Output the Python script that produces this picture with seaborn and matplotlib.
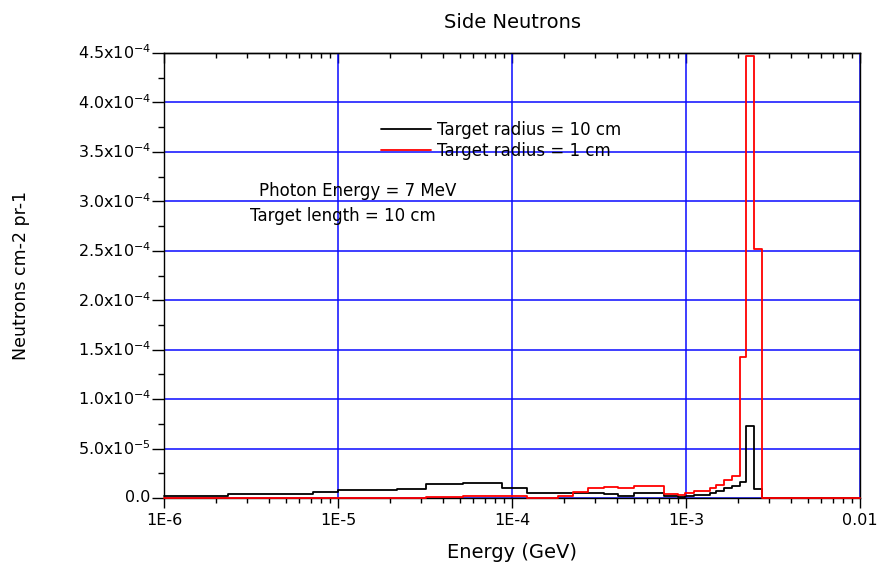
import matplotlib
matplotlib.use("Agg")
import matplotlib.pyplot as plt
import numpy as np
import pandas as pd
import seaborn as sns
from matplotlib.ticker import FixedLocator, FixedFormatter, NullFormatter, LogLocator

# Energy bin edges (GeV) shared by both spectra
bin_edges = [1.0e-6, 2.33e-6, 7.2e-6, 1.0e-5, 2.19e-5, 3.21e-5, 5.24e-5, 8.75e-5,
             1.22e-4, 1.85e-4, 2.25e-4, 2.72e-4, 3.36e-4, 4.09e-4, 5.05e-4, 7.43e-4,
             9.05e-4, 9.9e-4, 1.107e-3, 1.23e-3, 1.37e-3, 1.49e-3, 1.66e-3, 1.84e-3,
             2.03e-3, 2.22e-3, 2.47e-3, 2.75e-3, 1.0e-2]

# Neutron fluence per bin (neutrons cm-2 per primary)
flux_r10 = [2.0e-6, 3.7e-6, 5.7e-6, 7.7e-6, 9.0e-6, 13.7e-6, 15.3e-6, 10.0e-6,
            5.5e-6, 5.5e-6, 5.5e-6, 5.5e-6, 3.7e-6, 2.3e-6, 5.5e-6, 2.3e-6,
            1.3e-6, 2.5e-6, 3.0e-6, 3.3e-6, 4.7e-6, 6.7e-6, 10.0e-6, 12.0e-6,
            16.3e-6, 73.0e-6, 8.7e-6, 0.0]
flux_r1 = [0.3e-6, 0.3e-6, 0.3e-6, 0.3e-6, 0.3e-6, 1.0e-6, 2.0e-6, 2.0e-6,
           0.5e-6, 2.3e-6, 5.7e-6, 9.7e-6, 11.3e-6, 9.7e-6, 11.7e-6, 4.0e-6,
           3.3e-6, 5.3e-6, 6.7e-6, 7.3e-6, 9.7e-6, 12.7e-6, 18.0e-6, 22.0e-6,
           143.0e-6, 447.0e-6, 251.5e-6, 0.0]

series_labels = ["Target radius = 10 cm", "Target radius = 1 cm"]
series_colors = ["#000000", "#ff0000"]

xtick_values = [1e-6, 1e-5, 1e-4, 1e-3, 1e-2]
xtick_labels = ["1E-6", "1E-5", "1E-4", "1E-3", "0.01"]
ytick_values = [0.0, 5e-5, 1e-4, 1.5e-4, 2e-4, 2.5e-4, 3e-4, 3.5e-4, 4e-4, 4.5e-4]
ytick_labels = ["0.0", "5.0x10$^{-5}$", "1.0x10$^{-4}$", "1.5x10$^{-4}$", "2.0x10$^{-4}$",
                "2.5x10$^{-4}$", "3.0x10$^{-4}$", "3.5x10$^{-4}$", "4.0x10$^{-4}$",
                "4.5x10$^{-4}$"]

sns.set_style("white")
plt.rcParams["font.family"] = ["DejaVu Sans"]
plt.rcParams["mathtext.default"] = "regular"
for key in ["text.color", "axes.labelcolor", "xtick.color", "ytick.color",
            "axes.edgecolor"]:
    plt.rcParams[key] = "black"

W, H = 882, 572
fig = plt.figure(figsize=(W / 100, H / 100), dpi=100)
ax_l, ax_r, ax_t, ax_b = 164, 860, 53, 498
ax = fig.add_axes([ax_l / W, 1 - ax_b / H, (ax_r - ax_l) / W, (ax_b - ax_t) / H])

ax.set_xscale("log")
handles = []
for flux, lab, col in zip([flux_r10, flux_r1], series_labels, series_colors):
    df = pd.DataFrame({"energy": bin_edges, "flux": list(flux) + [flux[-1]]})
    sns.lineplot(data=df, x="energy", y="flux", ax=ax, estimator=None, sort=False,
                 drawstyle="steps-post", color=col, lw=1.3, legend=False)
    line = ax.get_lines()[-1]
    line.set_zorder(4)
    line.set_clip_on(False)
    line.set_label(lab)
    handles.append(line)

ax.set_xlim(1e-6, 1e-2)
ax.set_ylim(0, 4.5e-4)

# grid
ax.set_axisbelow(True)
ax.grid(True, which="major", color="#0a0aff", lw=1.1)
ax.grid(False, which="minor")

# spines
for s in ax.spines.values():
    s.set_visible(True)
    s.set_color("black")
    s.set_linewidth(1.0)

# x ticks: outward on bottom
ax.xaxis.set_major_locator(FixedLocator(xtick_values))
ax.xaxis.set_major_formatter(FixedFormatter(xtick_labels))
ax.xaxis.set_minor_locator(LogLocator(base=10, subs=np.arange(2, 10)))
ax.xaxis.set_minor_formatter(NullFormatter())
ax.tick_params(axis="x", which="major", direction="out", length=7, width=1.0,
               labelsize=11.5, pad=4, bottom=True, top=False)
ax.tick_params(axis="x", which="minor", direction="out", length=3.3, width=1.0,
               bottom=True, top=False)

# top axis: inward ticks, no labels
top = ax.secondary_xaxis("top")
top.xaxis.set_major_locator(FixedLocator(xtick_values))
top.xaxis.set_minor_locator(LogLocator(base=10, subs=np.arange(2, 10)))
top.xaxis.set_major_formatter(NullFormatter())
top.xaxis.set_minor_formatter(NullFormatter())
top.tick_params(which="major", direction="in", length=7, width=1.0, color="black")
top.tick_params(which="minor", direction="in", length=3.3, width=1.0, color="black")
top.spines["top"].set_linewidth(1.0)

# y ticks: outward on left
ax.yaxis.set_major_locator(FixedLocator(ytick_values))
ax.yaxis.set_major_formatter(FixedFormatter(ytick_labels))
ax.yaxis.set_minor_locator(FixedLocator(np.arange(0, 4.51e-4, 2.5e-5)))
ax.tick_params(axis="y", which="major", direction="out", length=8.5, width=1.0,
               labelsize=11.5, pad=1, left=True, right=False)
ax.tick_params(axis="y", which="minor", direction="out", length=4.3, width=1.0,
               left=True, right=False)
for t in ax.get_yticklabels():
    t.set_va("center")

# labels and title
ax.set_xlabel("Energy (GeV)", fontsize=14)
ax.xaxis.set_label_coords(0.5, -(553 - ax_b) / (ax_b - ax_t))
ax.xaxis.label.set_va("center")
ax.set_ylabel("Neutrons cm-2 pr-1", fontsize=12.5)
ax.yaxis.set_label_coords(-(ax_l - 21) / (ax_r - ax_l), 0.5)
ax.yaxis.label.set_va("center")
ax.set_title("Side Neutrons", fontsize=14, pad=0, y=1 + (ax_t - 23) / (ax_b - ax_t),
             va="center")

# legend
leg = ax.legend(handles=handles, loc="center left",
                bbox_to_anchor=(381 / W, 1 - 140.5 / H), bbox_transform=fig.transFigure,
                frameon=False, fontsize=12, handlelength=3.0, handletextpad=0.36,
                labelspacing=0.2, borderpad=0, borderaxespad=0)

# run parameters
fig.text(358 / W, 1 - 190.7 / H, "Photon Energy = 7 MeV", ha="center", va="center",
         fontsize=12)
fig.text(343 / W, 1 - 216 / H, "Target length = 10 cm", ha="center", va="center",
         fontsize=12)

fig.savefig("out.png", dpi=100)
